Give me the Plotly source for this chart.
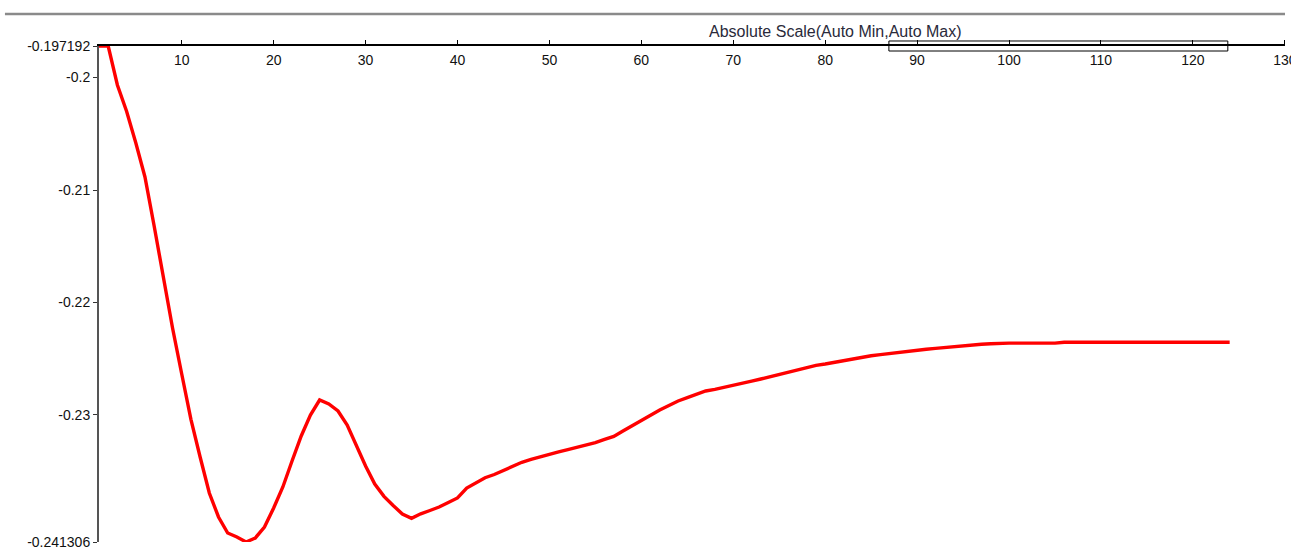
import plotly.graph_objects as go

# Sample index and response values of the trace
x_vals = list(range(1, 125))
y_vals = [
    -0.197192, -0.197192, -0.200660, -0.203000, -0.205800, -0.208842, -0.213200, -0.217826,
    -0.222272, -0.226363, -0.230392, -0.233745, -0.236947, -0.239081, -0.240504, -0.240861,
    -0.241306, -0.240950, -0.239971, -0.238281, -0.236413, -0.234101, -0.231877, -0.230010,
    -0.228677, -0.229033, -0.229655, -0.230900, -0.232766, -0.234545, -0.236146, -0.237248,
    -0.238058, -0.238814, -0.239196, -0.238796, -0.238503, -0.238192, -0.237792, -0.237391,
    -0.236502, -0.236013, -0.235591, -0.235306, -0.234963, -0.234574, -0.234218, -0.233966,
    -0.233726, -0.233494, -0.233297, -0.233093, -0.232889, -0.232677, -0.232473, -0.232188,
    -0.231921, -0.231432, -0.230952, -0.230490, -0.230018, -0.229565, -0.229164, -0.228764,
    -0.228471, -0.228159, -0.227875, -0.227733, -0.227563, -0.227403, -0.227208, -0.227003,
    -0.226808, -0.226594, -0.226390, -0.226185, -0.225980, -0.225767, -0.225598, -0.225474,
    -0.225313, -0.225162, -0.225020, -0.224887, -0.224744, -0.224637, -0.224531, -0.224424,
    -0.224335, -0.224255, -0.224166, -0.224086, -0.224006, -0.223926, -0.223846, -0.223760,
    -0.223720, -0.223680, -0.223620, -0.223620, -0.223620, -0.223620, -0.223620, -0.223620,
    -0.223620, -0.223540, -0.223540, -0.223540, -0.223540, -0.223540, -0.223540, -0.223540,
    -0.223540, -0.223540, -0.223540, -0.223540, -0.223540, -0.223540, -0.223540, -0.223540,
    -0.223540, -0.223540, -0.223540, -0.223540,
]

# Axis ticks
x_range = [1, 130]
x_tick_vals = [10, 20, 30, 40, 50, 60, 70, 80, 90, 100, 110, 120, 130]
y_tick_vals = [-0.197192, -0.2, -0.21, -0.22, -0.23, -0.241306]
y_tick_text = ["-0.197192", "-0.2", "-0.21", "-0.22", "-0.23", "-0.241306"]
scale_title = "Absolute Scale(Auto Min,Auto Max)"
window_span = [86.93, 123.8]

FONT = "Liberation Sans, Arial, sans-serif"
EPS_X = 0.02
EPS_Y = 1e-7

fig = go.Figure()
fig.add_trace(go.Scatter(
    x=x_vals, y=y_vals, mode="lines",
    line=dict(color="#ff0000", width=3.4),
    hoverinfo="skip", showlegend=False,
))

fig.update_layout(
    width=1291, height=548,
    margin=dict(l=99, r=6, t=46, b=6, autoexpand=False),
    paper_bgcolor="white", plot_bgcolor="white",
    font=dict(family=FONT, size=14, color="#111111"),
    xaxis=dict(
        range=[x_range[0], x_range[1] + EPS_X], side="top",
        tickmode="array", tickvals=x_tick_vals,
        ticks="outside", ticklen=4, tickwidth=1, tickcolor="#000000",
        ticklabelposition="inside", ticklabelstandoff=9,
        ticklabeloverflow="allow", automargin=False,
        showline=True, linecolor="#000000", linewidth=1.5,
        showgrid=False, zeroline=False,
        tickfont=dict(family=FONT, size=14, color="#111111"),
    ),
    yaxis=dict(
        range=[y_tick_vals[-1] - EPS_Y, y_tick_vals[0] + EPS_Y],
        tickmode="array", tickvals=y_tick_vals, ticktext=y_tick_text,
        ticks="outside", ticklen=4, tickwidth=1, tickcolor="#333333",
        ticklabeloverflow="allow", automargin=False,
        showline=True, linecolor="#555555", linewidth=2,
        showgrid=False, zeroline=False,
        tickfont=dict(family=FONT, size=14, color="#111111"),
    ),
)

# Separator rule across the top of the view
fig.add_shape(type="line", xref="paper", yref="paper",
              x0=-0.0793, x1=1.0, y0=1.0645, y1=1.0645,
              line=dict(color="#8a8a8a", width=2.5))

# Scroll window box on the scale
fig.add_shape(type="rect", xref="x", yref="paper",
              x0=window_span[0], x1=window_span[1], y0=0.9899, y1=1.0101,
              line=dict(color="#000000", width=1), fillcolor="rgba(0,0,0,0)")

fig.add_annotation(text=scale_title, xref="paper", yref="paper",
                   x=0.6214, y=1.0302, xanchor="center", yanchor="middle",
                   showarrow=False,
                   font=dict(family=FONT, size=16, color="#2a2a3a"))

fig.write_html("out.html")
